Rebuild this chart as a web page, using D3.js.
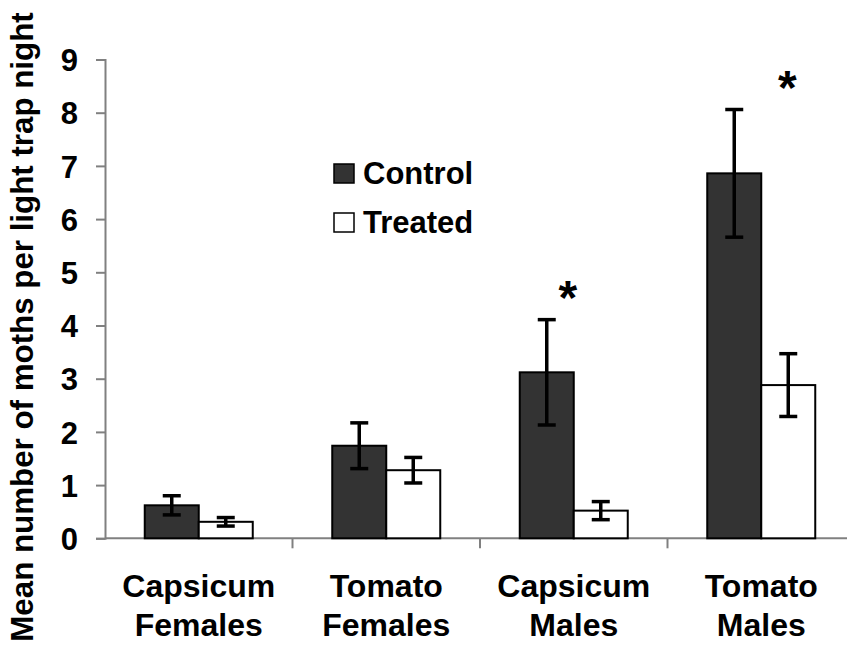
<!DOCTYPE html>
<html>
<head>
<meta charset="utf-8">
<script src="https://cdn.jsdelivr.net/npm/d3@7"></script>
<style>
    body { margin: 0; background: white; }
    svg { display: block; font-family: "Liberation Sans", Arial, sans-serif; font-weight: bold; }
</style>
</head>
<body>
<svg id="chartSvg" width="847" height="653"></svg>
<script>
var categories = [["Capsicum", "Females"], ["Tomato", "Females"], ["Capsicum", "Males"], ["Tomato", "Males"]];
var seriesNames = ["Control", "Treated"];
var controlMeans = [0.62, 1.74, 3.12, 6.86];
var controlErrors = [0.18, 0.43, 0.99, 1.2];
var treatedMeans = [0.31, 1.28, 0.52, 2.88];
var treatedErrors = [0.08, 0.24, 0.17, 0.59];
var significant = [false, false, true, true];
var yTicks = [0, 1, 2, 3, 4, 5, 6, 7, 8, 9];

var svg = d3.select("#chartSvg");

var x0 = d3.scaleBand()
    .domain(d3.range(categories.length))
    .range([105, 855])
    .paddingInner(0)
    .paddingOuter(0);

var x1 = d3.scaleBand()
    .domain(seriesNames)
    .range([0, x0.bandwidth()])
    .paddingInner(0)
    .paddingOuter(0.736);

var y = d3.scaleLinear()
    .domain([0, 9])
    .range([538.3, 59.5]);

var fills = { "Control": "#333333", "Treated": "#ffffff" };

var rows = [];
for (let i = 0; i < categories.length; i++) {
    rows.push({ cat: i, series: "Control", mean: controlMeans[i], err: controlErrors[i] });
    rows.push({ cat: i, series: "Treated", mean: treatedMeans[i], err: treatedErrors[i] });
}

// y axis
var yAxis = svg.append("g")
    .attr("transform", "translate(105,0)")
    .call(d3.axisLeft(y).tickValues(yTicks).tickSize(9).tickPadding(18).tickFormat(d3.format("d")));
yAxis.select(".domain").attr("stroke", "#808080").attr("stroke-width", 2);
yAxis.selectAll(".tick line").attr("stroke", "#808080").attr("stroke-width", 2);
yAxis.selectAll(".tick text")
    .attr("fill", "black")
    .style("font-size", "31px")
    .style("font-family", "Liberation Sans, Arial, sans-serif")
    .style("font-weight", "bold")
    .attr("dy", "0.36em");

// x axis line + category separators
svg.append("line")
    .attr("x1", 105).attr("x2", 855)
    .attr("y1", y(0)).attr("y2", y(0))
    .attr("stroke", "#808080").attr("stroke-width", 2);

svg.append("g").selectAll("line")
    .data(d3.range(1, categories.length + 1))
    .enter().append("line")
    .attr("x1", function (d) { return x0(0) + d * x0.step(); })
    .attr("x2", function (d) { return x0(0) + d * x0.step(); })
    .attr("y1", y(0))
    .attr("y2", y(0) + 10)
    .attr("stroke", "#808080")
    .attr("stroke-width", 2);

// bars
svg.append("g").selectAll("rect")
    .data(rows)
    .enter().append("rect")
    .attr("x", function (d) { return x0(d.cat) + x1(d.series); })
    .attr("y", function (d) { return y(d.mean); })
    .attr("width", x1.bandwidth())
    .attr("height", function (d) { return y(0) - y(d.mean); })
    .attr("fill", function (d) { return fills[d.series]; })
    .attr("stroke", "black")
    .attr("stroke-width", 2);

// error bars
var errG = svg.append("g").selectAll("g")
    .data(rows)
    .enter().append("g")
    .attr("transform", function (d) {
        return "translate(" + (x0(d.cat) + x1(d.series) + x1.bandwidth() / 2) + ",0)";
    });
errG.append("line")
    .attr("y1", function (d) { return y(d.mean + d.err); })
    .attr("y2", function (d) { return y(d.mean - d.err); })
    .attr("stroke", "black").attr("stroke-width", 3.5);
errG.append("line")
    .attr("x1", -9).attr("x2", 9)
    .attr("y1", function (d) { return y(d.mean + d.err); })
    .attr("y2", function (d) { return y(d.mean + d.err); })
    .attr("stroke", "black").attr("stroke-width", 3.5);
errG.append("line")
    .attr("x1", -9).attr("x2", 9)
    .attr("y1", function (d) { return y(d.mean - d.err); })
    .attr("y2", function (d) { return y(d.mean - d.err); })
    .attr("stroke", "black").attr("stroke-width", 3.5);

// significance stars
var starShift = [0, 0, -6, 26];
svg.append("g").selectAll("text")
    .data(d3.range(categories.length).filter(function (i) { return significant[i]; }))
    .enter().append("text")
    .attr("x", function (i) { return x0(i) + x0.bandwidth() / 2 + starShift[i]; })
    .attr("y", function (i) { return y(controlMeans[i] + controlErrors[i]) - 6; })
    .attr("text-anchor", "middle")
    .style("font-size", "48px")
    .text("*");

// category labels
var catLabels = svg.append("g").selectAll("text")
    .data(categories)
    .enter().append("text")
    .attr("x", function (d, i) { return x0(i) + x0.bandwidth() / 2; })
    .attr("y", 597)
    .attr("text-anchor", "middle")
    .style("font-size", "32px");
catLabels.append("tspan")
    .attr("x", function (d, i) { return x0(i) + x0.bandwidth() / 2; })
    .text(function (d) { return d[0]; });
catLabels.append("tspan")
    .attr("x", function (d, i) { return x0(i) + x0.bandwidth() / 2; })
    .attr("dy", 39)
    .text(function (d) { return d[1]; });

// y axis title
svg.append("text")
    .attr("transform", "translate(33,327) rotate(-90)")
    .attr("text-anchor", "middle")
    .style("font-size", "31.3px")
    .text("Mean number of moths per light trap night");

// legend
var legend = svg.append("g").selectAll("g")
    .data(seriesNames)
    .enter().append("g")
    .attr("transform", function (d, i) { return "translate(334," + (164 + i * 49) + ")"; });
legend.append("rect")
    .attr("width", 20).attr("height", 19)
    .attr("fill", function (d) { return fills[d]; })
    .attr("stroke", "black").attr("stroke-width", 1.5);
legend.append("text")
    .attr("x", 29)
    .attr("y", 20)
    .style("font-size", "31px")
    .text(function (d) { return d; });
</script>
</body>
</html>
